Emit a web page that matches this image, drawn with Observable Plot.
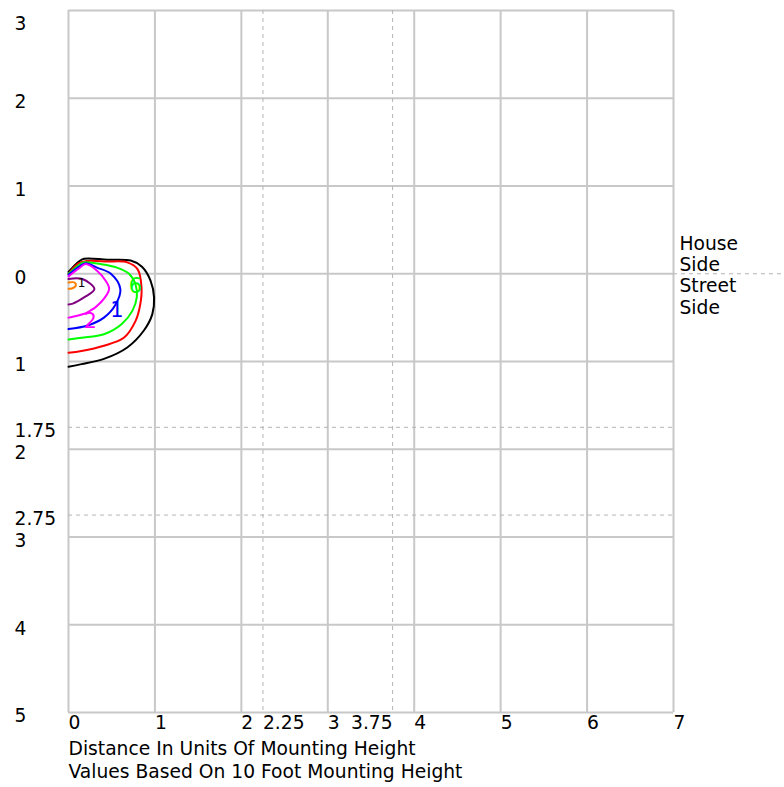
<!DOCTYPE html>
<html><head><meta charset="utf-8">
<script src="https://cdn.jsdelivr.net/npm/d3@7"></script>
<script src="https://cdn.jsdelivr.net/npm/@observablehq/plot@0.6"></script>
<style>body{margin:0;background:#fff}</style>
</head><body><div id="chart"></div>
<script>
// Grid and tick values
const xGrid = [0, 1, 2, 3, 4, 5, 6, 7];
const yGrid = [-3, -2, -1, 0, 1, 2, 3, 4, 5];
const xDashed = [2.25, 3.75];
const yDashed = [1.75, 2.75];
const xTicksStart = [0, 1, 2, 2.25, 3, 4, 5, 6, 7];
const xTicksEnd = [3.75];
const yTicks = [-3, -2, -1, 0, 1, 1.75, 2, 2.75, 3, 4, 5];
const yTickLabels = ["3", "2", "1", "0", "1", "1.75", "2", "2.75", "3", "4", "5"];
const xTitle = ["Distance In Units Of Mounting Height", "Values Based On 10 Foot Mounting Height"];
const houseSide = "House\nSide";
const streetSide = "Street\nSide";

// Isoline contours [x, y] (y positive = street side)
const contourBlack = [[0,-0.02],[0.12,-0.14],[0.18,-0.17],[0.45,-0.16],[0.72,-0.15],[0.85,-0.08],[0.95,0.08],[0.99,0.27],[0.97,0.46],[0.87,0.65],[0.68,0.84],[0.41,0.97],[0.15,1.03],[0,1.06]];
const contourRed = [[0,0],[0.12,-0.12],[0.22,-0.145],[0.45,-0.14],[0.68,-0.13],[0.8,-0.05],[0.845,0.16],[0.83,0.35],[0.775,0.54],[0.64,0.73],[0.41,0.82],[0.15,0.88],[0,0.9]];
const contourGreen = [[0,0],[0.12,-0.1],[0.18,-0.13],[0.37,-0.11],[0.56,-0.07],[0.7,0.0],[0.775,0.12],[0.79,0.27],[0.74,0.42],[0.62,0.57],[0.41,0.69],[0.15,0.73],[0,0.75]];
const contourBlue = [[0,0.01],[0.12,-0.08],[0.2,-0.12],[0.33,-0.07],[0.49,0.0],[0.6,0.175],[0.545,0.35],[0.41,0.5],[0.22,0.59],[0,0.63]];
const contourMagenta = [[0,0.03],[0.12,-0.06],[0.2,-0.11],[0.33,-0.035],[0.43,0.08],[0.47,0.175],[0.37,0.33],[0.22,0.44],[0.05,0.49],[0,0.5]];
const contourPurple = [[0,0.06],[0.16,0.06],[0.3,0.175],[0.18,0.27],[0.05,0.34],[0,0.35]];
const contourOrange = [[0,0.1],[0.07,0.1],[0.085,0.135],[0.03,0.17],[0,0.17]];

// Contour labels [x, y, text]
const contourLabels = [[0.775,0.14,"6"],[0.56,0.42,"1"],[0.25,0.54,"2"]];
const contourLabelColors = ["#00ff00", "#0000ff", "#ff00ff"];
const centerLabel = [[0.15,0.11,"1"]];

const FONT = "DejaVu Sans";
const FS = 18.7;
const gridColor = "#c8c8c8";
const dashColor = "#b4b4b4";

const line = (data, color) => Plot.line(data, {x: d => d[0], y: d => d[1], stroke: color, strokeWidth: 2, curve: "catmull-rom"});

const chart = Plot.plot({
  width: 784,
  height: 787,
  marginLeft: 68,
  marginRight: 111,
  marginTop: 10,
  marginBottom: 75,
  x: {domain: [0, 7], axis: null},
  y: {domain: [-3, 5], reverse: true, axis: null},
  style: {background: "white", fontFamily: FONT},
  marks: [
    Plot.ruleX(xGrid, {x: d => d, stroke: gridColor, strokeWidth: 2}),
    Plot.ruleY(yGrid, {y: d => d, stroke: gridColor, strokeWidth: 2}),
    Plot.ruleX(xDashed, {x: d => d, stroke: dashColor, strokeWidth: 1, strokeDasharray: "4,4"}),
    Plot.ruleY(yDashed, {y: d => d, x1: 0, x2: 7, stroke: dashColor, strokeWidth: 1, strokeDasharray: "4,4"}),
    Plot.ruleY([0], {y: d => d, x1: 7, x2: 8.3, stroke: dashColor, strokeWidth: 1, strokeDasharray: "4,4", clip: false}),
    line(contourBlack, "#000000"),
    line(contourRed, "#ff0000"),
    line(contourGreen, "#00ff00"),
    line(contourBlue, "#0000ff"),
    line(contourMagenta, "#ff00ff"),
    line(contourPurple, "#800080"),
    line(contourOrange, "#ff8000"),
    Plot.text(contourLabels, {x: d => d[0], y: d => d[1], text: d => d[2], fill: (d, i) => contourLabelColors[i], fontSize: 21, fontFamily: FONT}),
    Plot.text(centerLabel, {x: d => d[0], y: d => d[1], text: d => d[2], fill: "black", fontSize: 12, fontFamily: FONT}),
    // y tick labels
    Plot.text(yTicks.slice(1), {y: d => d, text: (d, i) => yTickLabels[i + 1], frameAnchor: "left", dx: -54, dy: 4, textAnchor: "start", fontSize: FS, fontFamily: FONT, fill: "black"}),
    Plot.text(yTicks.slice(0, 1), {y: d => d, text: (d, i) => yTickLabels[i], frameAnchor: "left", dx: -54, dy: 14, textAnchor: "start", fontSize: FS, fontFamily: FONT, fill: "black"}),
    // x tick labels
    Plot.text(xTicksStart, {x: d => d, text: d => String(d), frameAnchor: "bottom", dy: 16, textAnchor: "start", fontSize: FS, fontFamily: FONT, fill: "black"}),
    Plot.text(xTicksEnd, {x: d => d, text: d => String(d), frameAnchor: "bottom", dy: 16, textAnchor: "end", fontSize: FS, fontFamily: FONT, fill: "black"}),
    // x titles
    Plot.text(xTitle.slice(0, 1), {text: d => d, frameAnchor: "bottom-left", dy: 42, textAnchor: "start", fontSize: FS, fontFamily: FONT, fill: "black"}),
    Plot.text(xTitle.slice(1), {text: d => d, frameAnchor: "bottom-left", dy: 65, textAnchor: "start", fontSize: FS, fontFamily: FONT, fill: "black"}),
    // side labels
    Plot.text([houseSide], {x: 7, y: 0, text: d => d, dx: 6, dy: -3, textAnchor: "start", lineAnchor: "bottom", lineHeight: 1.1, fontSize: FS, fontFamily: FONT, fill: "black", clip: false}),
    Plot.text([streetSide], {x: 7, y: 0, text: d => d, dx: 6, dy: 3, textAnchor: "start", lineAnchor: "top", lineHeight: 1.15, fontSize: FS, fontFamily: FONT, fill: "black", clip: false})
  ]
});
document.getElementById("chart").appendChild(chart);
</script>
</body></html>
